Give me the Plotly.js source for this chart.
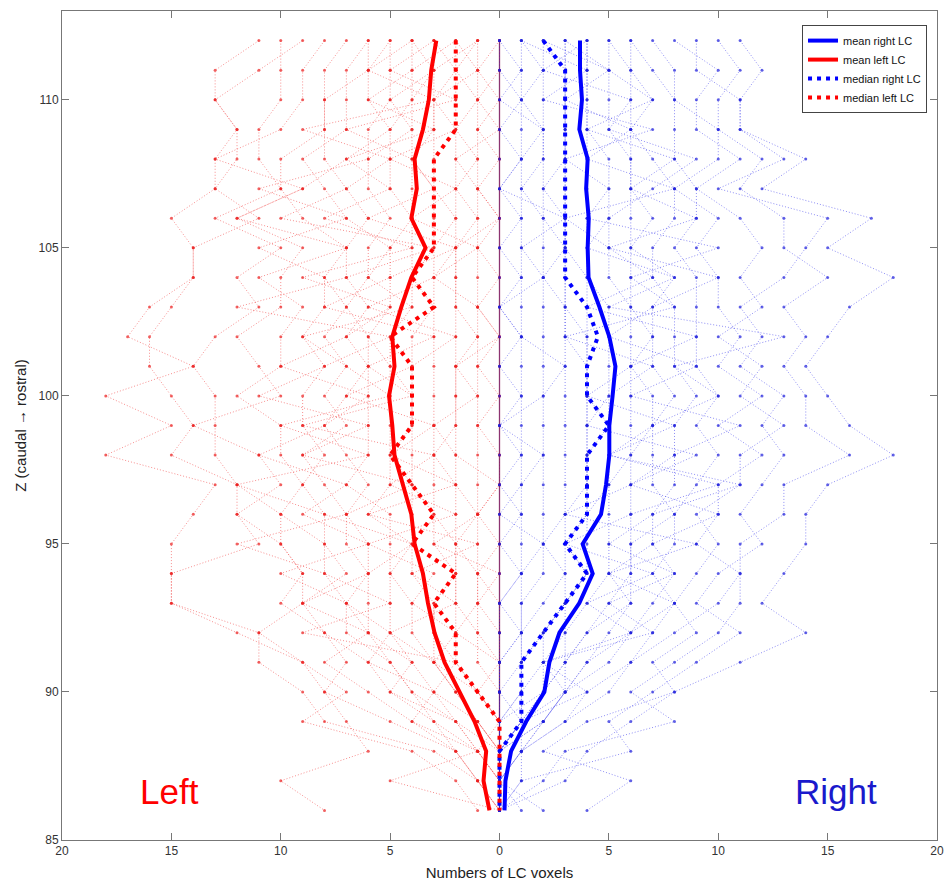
<!DOCTYPE html>
<html>
<head>
<meta charset="utf-8">
<script src="https://cdn.plot.ly/plotly-3.0.1.min.js"></script>
<style>html,body{margin:0;padding:0;background:#fff;}#chart{width:945px;height:883px;}</style>
</head>
<body>
<div id="chart"></div>
<script>
// Z levels (caudal -> rostral), listed top to bottom
const zLevels = [112,111,110,109,108,107,106,105,104,103,102,101,100,99,98,97,96,95,94,93,92,91,90,89,88,87,86];

// Individual subjects, left LC voxel counts per Z level
const leftVoxels = [
  [11,13,13,12,12,13,15,14,14,16,17,14,18,15,18,13,14,15,15,15,11,9,8,7,6,10,8],
  [9,11,13,12,13,13,11,14,14,15,16,16,15,14,15,12,12,11,15,15,12,9,7,9,4,2,1],
  [10,10,10,11,11,10,13,10,12,11,13,14,13,13,13,12,10,10,9,9,11,11,9,8,3,1,0],
  [8,9,9,10,13,9,12,9,10,10,12,11,10,14,11,10,12,10,9,10,8,7,8,5,2,1,0],
  [7,8,8,8,10,10,9,7,11,9,10,10,12,10,10,9,10,8,8,7,6,8,6,4,1,5,0],
  [6,7,7,7,9,8,7,11,8,8,9,8,9,9,8,9,8,8,7,9,8,6,5,3,2,1,0],
  [6,6,8,8,8,7,6,7,8,7,8,7,8,7,9,8,7,7,6,7,7,5,4,3,1,0,0],
  [5,6,6,5,7,9,12,7,7,6,7,6,7,8,7,6,7,6,6,6,6,5,4,2,1,0,0],
  [5,5,5,6,6,6,5,6,6,7,6,6,6,6,6,7,5,5,5,5,5,4,3,2,1,0,0],
  [4,4,4,5,5,5,4,5,5,5,6,5,5,5,5,5,6,4,5,4,4,3,2,1,0,0,0],
  [4,3,4,4,4,4,4,4,4,4,5,5,4,4,5,4,4,4,4,3,3,3,2,1,0,0,0],
  [3,5,2,7,4,3,6,2,5,8,3,6,4,9,3,5,2,6,3,4,2,3,1,0,1,0,0],
  [3,3,3,3,4,3,3,3,4,3,4,4,4,4,4,4,3,3,2,3,3,2,1,0,0,0,0],
  [2,1,3,2,5,2,4,1,3,6,2,4,7,3,5,2,6,1,4,2,5,3,2,1,0,0,0],
  [3,2,3,3,3,3,2,3,3,3,3,3,3,3,3,3,3,2,2,2,2,2,1,0,0,0,0],
  [2,2,2,2,2,2,2,2,2,2,2,2,2,2,3,2,2,2,2,2,1,1,0,0,0,0,0],
  [1,2,1,2,1,2,1,2,2,2,1,2,2,2,2,2,1,2,1,1,1,0,0,0,0,0,0],
  [1,1,1,1,1,1,1,1,1,1,1,1,1,1,1,1,1,1,1,1,0,0,0,0,0,0,0],
  [0,1,0,1,0,1,0,1,0,1,0,1,0,1,0,0,1,0,1,0,0,0,0,0,0,0,0],
  [0,0,0,0,0,0,0,0,0,0,0,0,0,0,0,0,0,0,0,0,0,0,0,0,0,0,0],
  [2,4,6,3,7,5,8,4,9,5,7,10,6,8,11,7,9,6,10,7,5,6,3,4,2,1,0],
  [0,0,1,0,2,1,0,2,3,1,0,2,1,3,2,0,1,3,0,1,2,0,1,0,0,0,0],
  [1,3,5,4,6,11,7,5,6,4,9,7,5,10,6,12,8,4,6,9,6,4,5,2,0,0,0],
  [4,6,3,9,5,7,10,3,7,12,5,8,11,6,9,4,7,12,8,5,9,2,3,1,0,0,0]
];

// Individual subjects, right LC voxel counts per Z level
const rightVoxels = [
  [11,12,11,11,14,12,17,15,18,16,15,14,15,16,18,15,14,14,13,12,14,11,8,6,4,3,0],
  [10,11,10,10,12,11,13,13,15,13,14,13,14,14,16,13,13,11,11,11,10,8,6,8,3,2,0],
  [9,9,11,11,13,10,15,14,13,11,12,11,13,12,13,12,11,12,10,9,11,9,7,5,6,1,0],
  [8,10,9,9,11,9,11,12,11,12,10,12,11,13,11,11,9,10,9,8,9,7,8,4,2,6,4],
  [7,8,8,10,10,8,10,9,10,10,11,10,12,10,12,10,10,9,11,10,8,6,5,3,1,0,2],
  [6,7,8,8,8,9,9,8,9,9,9,9,10,9,10,9,8,8,7,8,7,6,4,3,1,1,0],
  [6,6,7,6,7,8,8,7,7,8,8,8,9,8,8,8,7,7,8,7,6,5,3,2,1,0,0],
  [5,6,6,6,6,6,7,6,8,7,7,7,8,7,7,7,8,6,6,6,5,4,3,2,0,0,1],
  [5,5,5,5,6,6,6,6,6,6,7,6,7,7,6,6,6,6,6,5,4,3,3,2,0,0,0],
  [4,4,4,4,5,5,5,5,5,6,6,6,6,6,6,5,5,5,5,4,3,3,2,1,0,0,0],
  [4,4,4,4,4,4,4,4,4,5,5,5,5,5,5,5,4,4,4,3,3,2,2,1,0,0,0],
  [2,5,3,6,4,8,3,5,7,4,9,6,4,8,5,10,6,3,7,4,6,2,3,1,0,0,0],
  [3,3,3,3,3,3,3,3,4,4,4,4,4,4,4,4,4,3,4,3,2,2,1,1,0,0,0],
  [3,3,3,3,3,3,3,3,3,3,4,4,4,4,4,4,4,3,3,3,2,1,1,1,0,0,0],
  [2,3,3,3,3,2,3,3,3,3,3,4,4,5,4,4,3,3,4,3,2,1,1,0,0,0,0],
  [2,2,2,2,2,2,2,3,2,3,3,3,3,3,3,3,3,2,3,2,1,1,1,0,0,0,0],
  [1,2,1,2,2,1,2,2,2,2,2,2,2,2,2,2,2,2,2,1,1,1,0,0,0,0,0],
  [1,1,1,1,1,1,1,1,1,1,1,1,1,1,1,1,1,1,1,1,1,0,0,0,0,0,0],
  [0,0,1,0,1,0,1,0,1,0,1,0,1,0,1,0,1,0,1,0,0,0,0,0,0,0,0],
  [0,0,0,0,0,0,0,0,0,0,0,0,0,0,0,0,0,0,0,0,0,0,0,0,0,0,0],
  [3,5,7,4,8,6,9,5,10,7,5,9,6,11,8,6,10,7,5,8,6,4,3,2,1,0,0],
  [0,1,0,2,1,0,3,1,2,0,1,3,2,0,2,1,0,2,1,0,1,0,0,1,0,0,0],
  [1,4,2,7,3,5,4,10,6,8,3,7,5,4,9,6,3,9,5,6,4,3,2,0,0,0,0],
  [4,2,6,5,9,7,5,4,8,5,13,8,10,7,5,11,7,5,8,5,7,2,4,1,1,0,0]
];

// Summary curves
const meanRight   = [3.68,3.68,3.77,3.65,4.03,3.96,4.08,4.03,4.07,4.57,5.02,5.3,5.17,5.02,5.02,4.87,4.64,3.8,4.26,3.65,2.74,2.28,2.05,1.22,0.53,0.27,0.23];
const meanLeft    = [2.89,3.12,3.23,3.5,3.88,3.78,4.03,3.38,4.03,4.49,4.9,4.8,5.05,4.9,4.8,4.41,4.03,3.88,3.5,3.27,2.97,2.51,1.83,1.14,0.61,0.73,0.46];
const medianRight = [2,3,3,3,3,3,3,3,3,4,4.5,4,4,5,4,4,4,3,4,3,2,1,1,1,0,0,0];
const medianLeft  = [2,2,2,2,3,3,3,3,4,3,5,4,4,4,5,4,3,4,2,3,2,2,1,0,0,0,0];

const xTickVals = [-20,-15,-10,-5,0,5,10,15,20];
const xTickText = ['20','15','10','5','0','5','10','15','20'];
const yTickVals = [85,90,95,100,105,110];

const FONT = 'Liberation Sans, Arial, Helvetica, sans-serif';
const traces = [];

function isAllZero(s){ return s.every(v => v === 0); }

leftVoxels.forEach(function(s){
  const flat = isAllZero(s);
  traces.push({
    x: s.map(v => -v), y: zLevels, type: 'scatter', mode: 'lines+markers',
    line: flat ? {color: 'rgba(190,20,40,0.75)', width: 1.2}
               : {color: 'rgba(240,50,50,0.55)', width: 1, dash: '1px,2px'},
    marker: {color: 'rgba(235,30,30,0.7)', size: 3},
    showlegend: false, hoverinfo: 'skip'
  });
});
rightVoxels.forEach(function(s){
  const flat = isAllZero(s);
  traces.push({
    x: s, y: zLevels, type: 'scatter', mode: 'lines+markers',
    line: flat ? {color: 'rgba(60,20,140,0.45)', width: 1.2}
               : {color: 'rgba(50,50,235,0.55)', width: 1, dash: '1px,2px'},
    marker: {color: 'rgba(30,30,220,0.7)', size: 3},
    showlegend: false, hoverinfo: 'skip'
  });
});

traces.push({x: meanRight, y: zLevels, type: 'scatter', mode: 'lines', name: 'mean right LC',
  line: {color: '#0000ff', width: 4}});
traces.push({x: meanLeft.map(v => -v), y: zLevels, type: 'scatter', mode: 'lines', name: 'mean left LC',
  line: {color: '#ff0000', width: 4}});
traces.push({x: medianRight, y: zLevels, type: 'scatter', mode: 'lines', name: 'median right LC',
  line: {color: '#0000ff', width: 4, dash: '4px,5px'}});
traces.push({x: medianLeft.map(v => -v), y: zLevels, type: 'scatter', mode: 'lines', name: 'median left LC',
  line: {color: '#ff0000', width: 4, dash: '4px,5px'}});

const axisCommon = {
  showgrid: false, zeroline: false, showline: true, mirror: 'ticks',
  linecolor: '#777', linewidth: 1, ticks: 'inside', ticklen: 7, tickcolor: '#777',
  tickfont: {family: FONT, size: 12, color: '#333'}
};

const layout = {
  width: 945, height: 883,
  margin: {l: 62, r: 8, t: 11, b: 43},
  paper_bgcolor: '#fff', plot_bgcolor: '#fff',
  font: {family: FONT, color: '#333'},
  xaxis: Object.assign({}, axisCommon, {
    range: [-20, 20], tickmode: 'array', tickvals: xTickVals, ticktext: xTickText,
    title: {text: 'Numbers of LC voxels', font: {family: FONT, size: 15, color: '#222'}, standoff: 10}
  }),
  yaxis: Object.assign({}, axisCommon, {
    range: [85, 113], tickmode: 'array', tickvals: yTickVals,
    title: {text: 'Z (caudal \u2192 rostral)', font: {family: FONT, size: 15, color: '#222'}, standoff: 8}
  }),
  showlegend: true,
  legend: {
    x: 0.9886, y: 0.983, xanchor: 'right', yanchor: 'top',
    bgcolor: '#fff', bordercolor: '#444', borderwidth: 1,
    font: {family: FONT, size: 11, color: '#111'},
    itemwidth: 30, tracegroupgap: 0
  },
  annotations: [
    {x: -15.1, y: 86.65, xref: 'x', yref: 'y', text: 'Left', showarrow: false,
      font: {family: FONT, size: 35, color: '#ff0000'}},
    {x: 15.4, y: 86.65, xref: 'x', yref: 'y', text: 'Right', showarrow: false,
      font: {family: FONT, size: 35, color: '#1a1acc'}}
  ]
};

Plotly.newPlot('chart', traces, layout, {displayModeBar: false, staticPlot: true});
</script>
</body>
</html>
